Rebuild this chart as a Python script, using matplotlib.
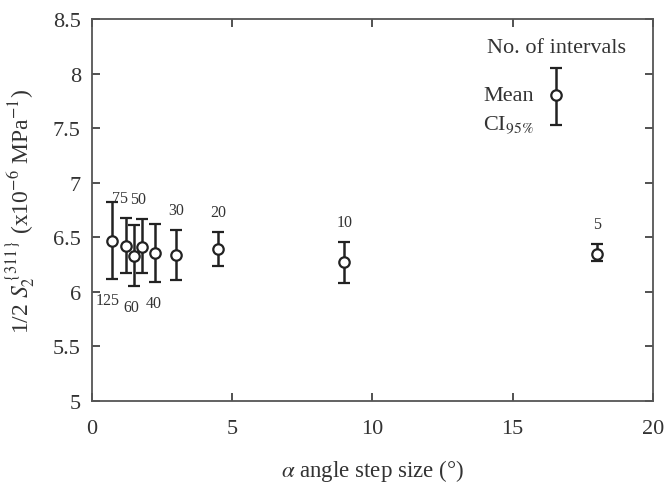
import numpy as np
import matplotlib
matplotlib.use('Agg')
import matplotlib.pyplot as plt

plt.rcParams['font.family'] = ['Liberation Serif', 'DejaVu Serif']
plt.rcParams['mathtext.fontset'] = 'stix'

intervals = [125, 75, 60, 50, 40, 30, 20, 10, 5]
step_size = [0.72, 1.2, 1.5, 1.8, 2.25, 3.0, 4.5, 9.0, 18.0]
mean_val = [6.47, 6.42, 6.33, 6.41, 6.36, 6.34, 6.39, 6.27, 6.35]
ci_low = [6.12, 6.17, 6.05, 6.17, 6.09, 6.11, 6.24, 6.08, 6.28]
ci_high = [6.82, 6.68, 6.61, 6.67, 6.62, 6.57, 6.55, 6.46, 6.44]
label_below = [True, False, True, False, True, False, False, False, False]
label_dx = [-3, -4, -2, -3, -1, 0, 0, 0, 0]  # points, nudges in crowded cluster

legend_x = 16.55
legend_mean = 7.80
legend_ci = (7.53, 8.05)

TXT = '#333333'
INK = '#222222'


def main():
    fig = plt.figure(figsize=(6.71, 4.89), dpi=100)
    ax = fig.add_axes([0.137, 0.178, 0.836, 0.781])

    m = np.array(mean_val)
    yerr = [m - np.array(ci_low), np.array(ci_high) - m]
    style = dict(fmt='o', mfc='white', mec=INK, ecolor=INK, ms=7.5, mew=1.6,
                 elinewidth=1.8, capsize=4.5, capthick=1.8)
    ax.errorbar(step_size, mean_val, yerr=yerr, **style)

    for n, x, lo, hi, below, dx in zip(intervals, step_size, ci_low, ci_high, label_below, label_dx):
        if below:
            ax.annotate(str(n), (x, lo), xytext=(dx, -15), textcoords='offset points',
                        ha='center', va='center', fontsize=11.5, color=TXT)
        else:
            ax.annotate(str(n), (x, hi), xytext=(dx, 14), textcoords='offset points',
                        ha='center', va='center', fontsize=11.5, color=TXT)

    # hand-made legend
    ax.errorbar([legend_x], [legend_mean],
                yerr=[[legend_mean - legend_ci[0]], [legend_ci[1] - legend_mean]], **style)
    ax.text(16.58, 8.235, 'No. of intervals', ha='center', va='center', fontsize=16, color=TXT)
    ax.text(13.94, 7.80, 'Mean', ha='left', va='center', fontsize=16, color=TXT)
    ax.text(13.94, 7.53, r'CI$_{95\%}$', ha='left', va='center', fontsize=16, color=TXT)

    ax.set_xlim(0, 20)
    ax.set_ylim(5, 8.5)
    ax.set_xticks([0, 5, 10, 15, 20])
    ax.set_yticks([5, 5.5, 6, 6.5, 7, 7.5, 8, 8.5])
    ax.set_yticklabels(['5', '5.5', '6', '6.5', '7', '7.5', '8', '8.5'])
    ax.tick_params(direction='in', top=True, right=True, length=6, width=1.2,
                   labelsize=16, colors=TXT)
    ax.tick_params(axis='x', pad=13)
    ax.tick_params(axis='y', pad=8)
    for s in ax.spines.values():
        s.set_color('#555555')
        s.set_linewidth(1.3)

    ax.set_xlabel(r'$\alpha$ angle step size (°)', fontsize=16.5, color=TXT, labelpad=14)
    ax.set_ylabel(r'1/2 $S_2^{\,\{311\}}$ (x10$^{-6}$ MPa$^{-1}$)', fontsize=17,
                  color=TXT, labelpad=11)

    fig.savefig('out.png', dpi=100)


if __name__ == '__main__':
    main()
